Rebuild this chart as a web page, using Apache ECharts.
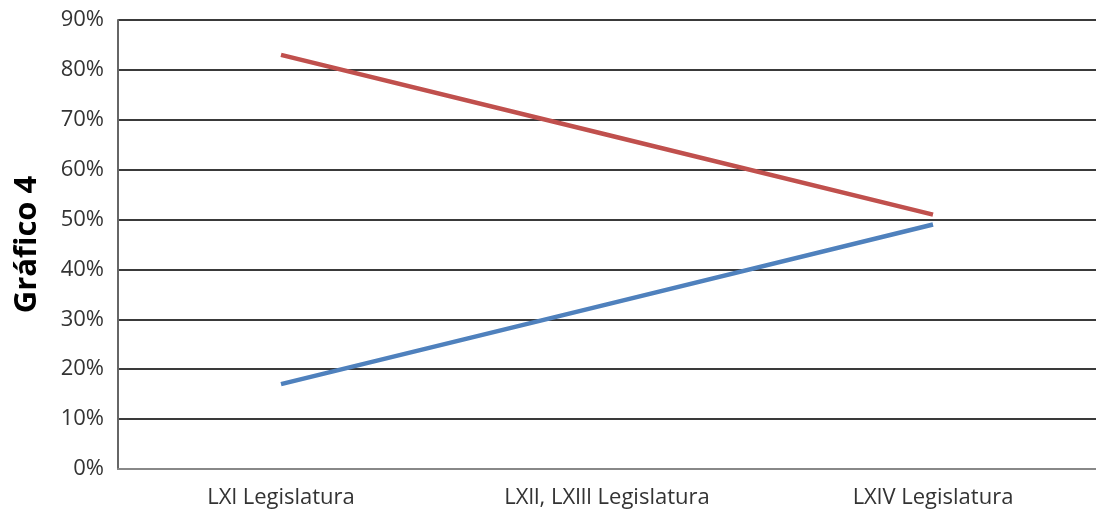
<!DOCTYPE html>
<html>
<head>
<meta charset="utf-8">
<script src="https://cdn.jsdelivr.net/npm/echarts@6/dist/echarts.min.js"></script>
<style>
  html, body { margin: 0; padding: 0; background: #fff; }
  #chart { width: 1096px; height: 515px; }
</style>
</head>
<body>
<div id="chart"></div>
<script>
// Legislaturas on the category axis
const categories = ['LXl Legislatura', 'LXll, LXlll Legislatura', 'LXlV Legislatura'];
// Percent shares for the two series
const redSeries = [83, 67, 51];
const blueSeries = [17, 33, 49];
// Y-axis ticks (percent)
const yTicks = [0, 10, 20, 30, 40, 50, 60, 70, 80, 90];

const FONT = '"Open Sans", "Liberation Sans", sans-serif';

const chart = echarts.init(document.getElementById('chart'), null, { renderer: 'canvas' });
chart.setOption({
  animation: false,
  backgroundColor: '#ffffff',
  grid: { left: 118, right: 0, top: 20, bottom: 46, containLabel: false },
  xAxis: {
    type: 'category',
    data: categories,
    boundaryGap: true,
    axisLine: { show: true, lineStyle: { color: '#888888', width: 2 } },
    axisTick: { show: false },
    axisLabel: { color: '#333333', fontSize: 22, fontFamily: FONT, margin: 18 },
    splitLine: { show: false }
  },
  yAxis: {
    type: 'value',
    min: yTicks[0],
    max: yTicks[yTicks.length - 1],
    interval: 10,
    name: 'Gráfico 4',
    nameLocation: 'middle',
    nameGap: 75,
    nameRotate: 90,
    nameTextStyle: { color: '#000000', fontSize: 31, fontWeight: 'bold', fontFamily: FONT },
    axisLine: { show: true, lineStyle: { color: '#666666', width: 2 } },
    axisTick: { show: false },
    axisLabel: {
      color: '#333333', fontSize: 22, fontFamily: FONT, margin: 14,
      formatter: v => v + '%'
    },
    splitLine: { show: true, lineStyle: { color: '#3a3a3a', width: 2 } }
  },
  series: [
    {
      name: 'A',
      type: 'line',
      data: redSeries,
      symbol: 'none',
      lineStyle: { color: '#C0504D', width: 4.5 },
      itemStyle: { color: '#C0504D' }
    },
    {
      name: 'B',
      type: 'line',
      data: blueSeries,
      symbol: 'none',
      lineStyle: { color: '#4F81BD', width: 4.5 },
      itemStyle: { color: '#4F81BD' }
    }
  ]
});
</script>
</body>
</html>
